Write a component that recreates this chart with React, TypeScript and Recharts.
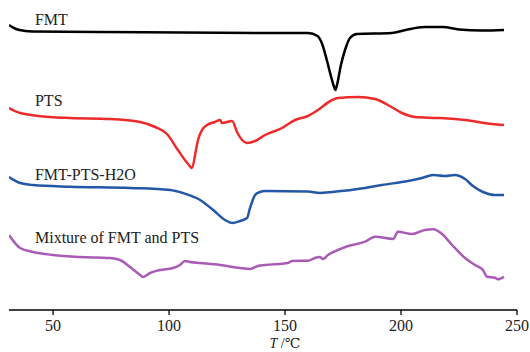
import { LineChart, Line, XAxis, YAxis, ReferenceDot } from "recharts";

// temperature (°C) and offset heat-flow readings for each trace
const fmtT = [31, 34, 38, 41, 70, 141, 160, 164, 166, 168, 170, 171, 171.7, 172.5, 174, 176, 178, 181, 196, 202, 210, 218, 225, 235, 244.4];
const fmtV = [285, 281, 279, 278.5, 278, 277, 277, 274, 266, 250, 232, 224, 220, 226, 244, 261, 272, 276, 277, 280, 283, 283, 280.5, 279.5, 280];

const ptsT = [31, 35.8, 48.7, 57.3, 74.6, 87.5, 94, 99.1, 103.8, 108.2, 109.9, 111.6, 112.5, 114.2, 116.4, 119.8, 122, 122.8, 127.2, 129.3, 131.5, 133.6, 137.1, 141.4, 148.7, 154.3, 159.9, 164.2, 170.3, 172.8, 181.5, 188.8, 194.4, 200.4, 206, 215.9, 227.6, 239.2, 244.4];
const ptsV = [202, 197, 193, 192, 191, 188, 183, 176, 160, 146, 142, 160, 170, 180, 185, 188, 190, 187, 189, 178, 170, 167, 169, 175, 182, 190, 194, 200, 210, 212, 213, 211, 205, 197, 193, 192, 190, 186, 185];

const h2oT = [31, 35.8, 41.4, 57.3, 83.2, 100.4, 106, 113.4, 119, 124.1, 127.2, 130.6, 133.6, 134.9, 137.1, 139.2, 141.4, 159.9, 165, 170.3, 184.5, 191.8, 203, 209, 213.8, 219, 223.2, 227.6, 231, 235.3, 240.5, 244.4];
const h2oV = [133, 127, 125, 123.3, 122, 120, 117, 110, 100, 90, 87, 89, 92, 102, 115, 118, 119, 118.5, 117, 118, 122, 125, 129, 132, 135, 134, 135, 131, 124, 118, 115, 115];

const mixT = [31, 35.8, 41.4, 50, 61.6, 74.6, 78.9, 83.2, 87.5, 88.8, 91.8, 96.1, 101.7, 104.7, 106.9, 109, 113.4, 122, 130.6, 134.9, 138.3, 141.4, 151.3, 153, 159.9, 162.9, 165, 166.4, 168.5, 170.3, 177.2, 184.5, 188.8, 196.6, 198.7, 204.7, 210.3, 213.8, 217.7, 222, 227.6, 231.9, 235.3, 237.1, 240.5, 241.8, 244.4];
const mixV = [75, 62, 58, 55, 53, 52, 50, 43, 35, 33, 37, 40, 42, 45, 49, 48, 47, 45, 42, 41, 44, 45, 47, 49, 49.3, 52, 53, 51, 55, 57.3, 64, 68.3, 73.3, 71, 78.3, 76, 80, 80.7, 76, 65, 52, 45, 40, 33.3, 32.3, 30.7, 33.3];

const xTicks = [50, 100, 150, 200, 250];

const labels = ["FMT", "PTS", "FMT-PTS-H2O", "Mixture of FMT and PTS"];
const labelT = [42.2, 42.2, 42.2, 42.2];
const labelV = [285, 204, 130, 67];

const colors = ["#000000", "#ee2b2b", "#2457a8", "#a95cb5"];

const zip = (t: number[], v: number[]) => t.map((x, i) => ({ t: x, v: v[i] }));
const series = [zip(fmtT, fmtV), zip(ptsT, ptsV), zip(h2oT, h2oV), zip(mixT, mixV)];

const serif = "'Times New Roman', 'Liberation Serif', 'DejaVu Serif', serif";

function AxisTitle(props: any) {
  const vb = props.viewBox || {};
  const x = vb.x + vb.width / 2 + 22;
  return (
    <text x={x} y={348} textAnchor="middle" style={{ fontFamily: serif }} fontSize={14} fill="#222">
      <tspan fontStyle="italic">T</tspan>
      <tspan> /℃</tspan>
    </text>
  );
}

export default function App() {
  return (
    <div style={{ position: "absolute", left: 0, top: 0, background: "#fff", fontFamily: serif }}>
      <LineChart width={530} height={352} margin={{ top: 0, right: 13, left: 9, bottom: 0 }} style={{ fontFamily: serif }}>
        <XAxis
          type="number"
          dataKey="t"
          domain={[31, 250]}
          ticks={xTicks}
          allowDataOverflow
          height={42}
          tickSize={5}
          tickMargin={5}
          axisLine={{ stroke: "#000", strokeWidth: 1.3 }}
          tickLine={{ stroke: "#000", strokeWidth: 1.3 }}
          tick={{ fill: "#222", fontSize: 16, style: { fontFamily: serif } }}
          label={<AxisTitle />}
        />
        <YAxis type="number" dataKey="v" domain={[0, 310]} hide />
        {series.map((d, i) => (
          <Line
            key={labels[i]}
            data={d}
            dataKey="v"
            type="monotone"
            stroke={colors[i]}
            strokeWidth={2.5}
            dot={false}
            isAnimationActive={false}
          />
        ))}
        {labels.map((name, i) => (
          <ReferenceDot
            key={name}
            x={labelT[i]}
            y={labelV[i]}
            r={0}
            shape={(p: any) => (
              <text x={p.cx} y={p.cy} style={{ fontFamily: serif }} fontSize={16} fill="#222">
                {name}
              </text>
            )}
          />
        ))}
      </LineChart>
    </div>
  );
}
